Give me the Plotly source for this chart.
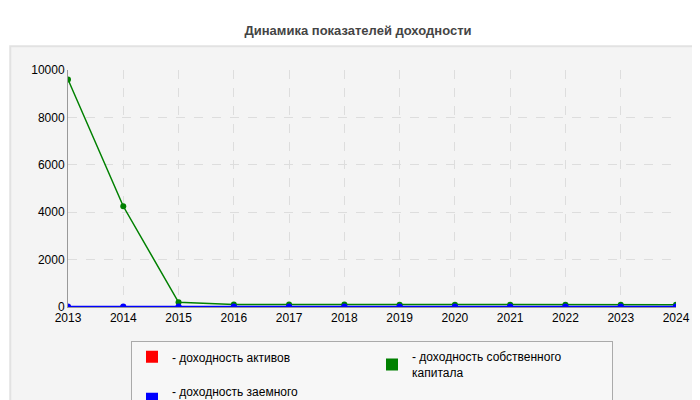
import plotly.graph_objects as go

years = [2013, 2014, 2015, 2016, 2017, 2018, 2019, 2020, 2021, 2022, 2023, 2024]
assets = [5, 5, 5, 5, 5, 5, 5, 5, 5, 5, 5, 5]
equity = [9600, 4250, 200, 110, 110, 105, 100, 100, 100, 100, 100, 100]
debt = [20, 20, 20, 20, 20, 20, 20, 20, 20, 20, 20, 20]

series = [
    ("- доходность активов", assets, "#ff0000"),
    ("- доходность собственного<br>капитала", equity, "#008000"),
    ("- доходность заемного<br>капитала", debt, "#0000ff"),
]

fig = go.Figure()
for name, vals, color in series:
    fig.add_trace(go.Scatter(x=years, y=vals, mode="lines+markers", showlegend=False,
                             line=dict(color=color, width=1.5), marker=dict(size=6, color=color)))
for name, vals, color in series:
    fig.add_trace(go.Scatter(x=[None], y=[None], mode="markers", name=name,
                             marker=dict(symbol="square", size=13, color=color)))

fig.add_shape(type="rect", xref="paper", yref="paper", x0=-0.095, x1=1.048, y0=-0.42, y1=1.1,
              fillcolor="#f4f4f4", line=dict(color="#e2e2e2"), layer="below")

fig.update_layout(
    width=700, height=400,
    title=dict(text="<b>Динамика показателей доходности</b>", x=0.5, y=0.955,
               font=dict(size=13, color="#444", family="Arial")),
    font=dict(family="Arial", size=12, color="#000"),
    paper_bgcolor="white", plot_bgcolor="#fcfcf6",
    margin=dict(l=60, r=32, t=62, b=101, autoexpand=False),
    xaxis=dict(range=[2013, 2024], dtick=1, showgrid=True, gridcolor="#dddddd", griddash="dash",
               showline=True, linecolor="#999", zeroline=False, ticks="", tickformat="d",
               tickfont=dict(size=12)),
    yaxis=dict(range=[0, 10000], dtick=2000, showgrid=True, gridcolor="#dddddd", griddash="dash",
               showline=True, linecolor="#999", zeroline=False, tickformat="d",
               tickfont=dict(size=12)),
    legend=dict(orientation="h", x=0.5, xanchor="center", y=-0.145, yanchor="top",
                bgcolor="#f7f7f7", bordercolor="#aaa", borderwidth=1,
                font=dict(size=12), entrywidth=195, itemsizing="constant",
                itemwidth=30),
)

fig.write_html("out.html")
